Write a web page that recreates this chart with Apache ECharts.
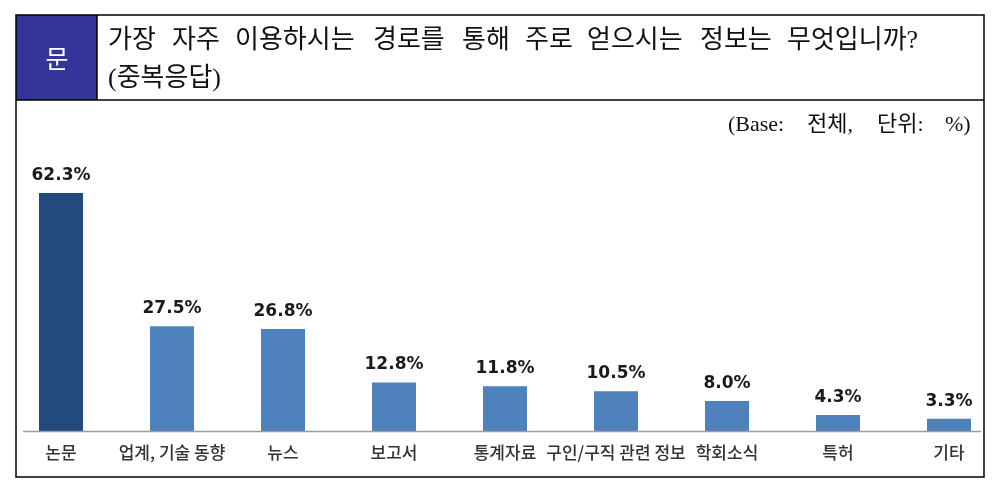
<!DOCTYPE html>
<html>
<head>
<meta charset="utf-8">
<script src="https://cdn.jsdelivr.net/npm/echarts@6/dist/echarts.min.js"></script>
<style>
html,body{margin:0;padding:0;background:#fff;}
#c{width:995px;height:480px;}
</style>
</head>
<body>
<div id="c"></div>
<script>
// ---- data ----
const categories = ['논문', '업계, 기술 동향', '뉴스', '보고서', '통계자료', '구인/구직 관련 정보', '학회소식', '특허', '기타'];
const values = [62.3, 27.5, 26.8, 12.8, 11.8, 10.5, 8.0, 4.3, 3.3];
const questionWords = ['가장', '자주', '이용하시는', '경로를', '통해', '주로', '얻으시는', '정보는', '무엇입니까?'];
const questionSub = '(중복응답)';
const baseWords = ['(Base:', '전체,', '단위:', '%)'];
const markerText = '문';

// ---- layout (positions only) ----
const wordX = [108, 172, 235, 373, 462, 525, 587, 700, 787];
const baseX = [728, 807, 877, 945];
const KR = "'Noto Sans CJK KR', sans-serif";
const SERIF = "'Liberation Serif', 'Noto Sans CJK KR', serif";

const chart = echarts.init(document.getElementById('c'), null, {renderer: 'canvas'});

const graphics = [];
graphics.push({type: 'rect', shape: {x: 16, y: 15, width: 81, height: 85}, style: {fill: '#34349A'}, z: 1});
graphics.push({type: 'rect', shape: {x: 16, y: 15, width: 968, height: 462}, style: {fill: 'none', stroke: '#000', lineWidth: 1.5}, z: 5});
graphics.push({type: 'line', shape: {x1: 16, y1: 100, x2: 984, y2: 100}, style: {stroke: '#000', lineWidth: 1.5}, z: 5});
graphics.push({type: 'line', shape: {x1: 97, y1: 15, x2: 97, y2: 100}, style: {stroke: '#000', lineWidth: 1.5}, z: 5});
graphics.push({type: 'text', x: 57, y: 58, style: {text: markerText, fill: '#fff', font: '25px ' + KR, textAlign: 'center', textVerticalAlign: 'middle'}, z: 6});
questionWords.forEach((w, i) => {
  graphics.push({type: 'text', x: wordX[i], y: 41, style: {text: w, fill: '#111', font: '26px ' + SERIF, textAlign: 'left', textVerticalAlign: 'middle'}, z: 6});
});
graphics.push({type: 'text', x: 108, y: 79, style: {text: questionSub, fill: '#111', font: '26px ' + SERIF, textAlign: 'left', textVerticalAlign: 'middle'}, z: 6});
baseWords.forEach((w, i) => {
  graphics.push({type: 'text', x: baseX[i], y: 125, style: {text: w, fill: '#111', font: '22px ' + SERIF, textAlign: 'left', textVerticalAlign: 'middle'}, z: 6});
});
// axis baseline
graphics.push({type: 'line', shape: {x1: 23, y1: 431.5, x2: 981, y2: 431.5}, style: {stroke: '#9d9d9d', lineWidth: 1.5}, z: 4});

const option = {
  animation: false,
  backgroundColor: '#fff',
  grid: {left: 61, right: 46, top: 48.7, bottom: 48.5, containLabel: false},
  xAxis: {
    type: 'category',
    data: categories,
    boundaryGap: false,
    axisLine: {show: false},
    axisTick: {show: false},
    axisLabel: {interval: 0, hideOverlap: false, fontSize: 17, fontWeight: 500, fontFamily: KR, color: '#333', margin: 13}
  },
  yAxis: {type: 'value', min: 0, max: 100, show: false, splitLine: {show: false}},
  series: [{
    type: 'bar',
    data: values.map((v, i) => ({value: v, itemStyle: {color: i === 0 ? '#234A7D' : '#4F81BD'}})),
    barWidth: 44,
    label: {
      show: true, position: 'top', distance: 9,
      formatter: p => p.value.toFixed(1) + '%',
      fontFamily: "'DejaVu Sans', sans-serif", fontWeight: 'bold', fontSize: 17, color: '#1a1a1a'
    }
  }],
  graphic: graphics
};
chart.setOption(option);
</script>
</body>
</html>
